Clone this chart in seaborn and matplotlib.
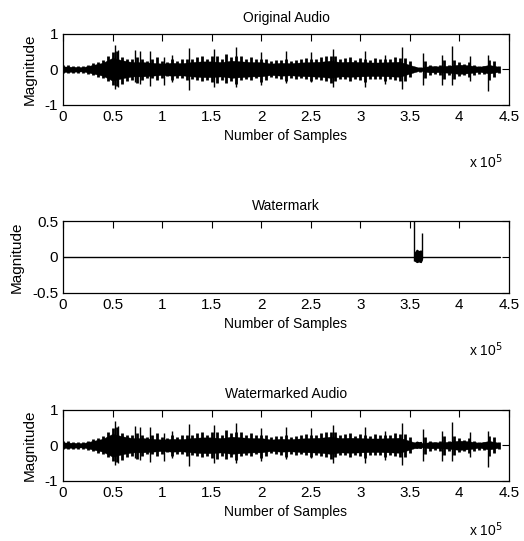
import numpy as np
import pandas as pd
import matplotlib
matplotlib.use('Agg')
import matplotlib.pyplot as plt
from matplotlib.ticker import FuncFormatter
import seaborn as sns

# sample positions of the envelope readings (units of 1e5 samples)
env_pos = np.linspace(0, 4.4, 89)

# outer (ragged) envelope of the original audio
env_upper = [0.11, 0.11, 0.10, 0.09, 0.08, 0.11, 0.17, 0.21, 0.27, 0.36,
             0.48, 0.50, 0.33, 0.29, 0.30, 0.33, 0.29, 0.24, 0.29, 0.33,
             0.24, 0.21, 0.29, 0.24, 0.28, 0.28, 0.30, 0.33, 0.36, 0.30,
             0.36, 0.38, 0.29, 0.43, 0.33, 0.38, 0.36, 0.29, 0.33, 0.29,
             0.30, 0.29, 0.22, 0.27, 0.27, 0.30, 0.22, 0.27, 0.28, 0.31,
             0.30, 0.28, 0.34, 0.36, 0.36, 0.36, 0.28, 0.31, 0.34, 0.27,
             0.31, 0.30, 0.27, 0.31, 0.28, 0.30, 0.28, 0.34, 0.31, 0.31,
             0.22, 0.05, 0.06, 0.22, 0.13, 0.10, 0.13, 0.27, 0.13, 0.27,
             0.19, 0.16, 0.20, 0.13, 0.10, 0.10, 0.25, 0.22, 0.10]
env_lower = [-0.11, -0.10, -0.10, -0.10, -0.10, -0.12, -0.17, -0.21, -0.25, -0.33,
             -0.43, -0.48, -0.40, -0.33, -0.29, -0.38, -0.29, -0.24, -0.24, -0.29,
             -0.24, -0.19, -0.29, -0.24, -0.24, -0.30, -0.27, -0.29, -0.33, -0.29,
             -0.35, -0.38, -0.29, -0.38, -0.33, -0.40, -0.31, -0.27, -0.29, -0.24,
             -0.35, -0.29, -0.21, -0.24, -0.28, -0.33, -0.24, -0.27, -0.24, -0.28,
             -0.32, -0.28, -0.31, -0.33, -0.38, -0.33, -0.27, -0.28, -0.33, -0.28,
             -0.30, -0.35, -0.27, -0.28, -0.28, -0.33, -0.27, -0.30, -0.33, -0.33,
             -0.21, -0.06, -0.08, -0.24, -0.15, -0.12, -0.15, -0.28, -0.15, -0.27,
             -0.19, -0.16, -0.22, -0.15, -0.12, -0.12, -0.30, -0.21, -0.10]

# solid core of the waveform (half height), every 0.1e5 samples
core_pos = np.linspace(0, 4.4, 45)
core_half = [0.08, 0.07, 0.06, 0.12, 0.18, 0.32, 0.25, 0.20, 0.20, 0.18,
             0.16, 0.18, 0.17, 0.20, 0.22, 0.22, 0.20, 0.24, 0.22, 0.20,
             0.20, 0.16, 0.18, 0.17, 0.19, 0.20, 0.21, 0.24, 0.20, 0.21,
             0.20, 0.19, 0.19, 0.20, 0.21, 0.12, 0.04, 0.09, 0.08, 0.10,
             0.13, 0.11, 0.07, 0.12, 0.07]

# transient spikes: position, top, bottom
spike_pos = [0.52, 0.56, 0.73, 0.78, 0.88, 1.02, 1.10, 1.27, 1.52, 1.75, 2.00,
             2.25, 2.50, 2.72, 3.05, 3.25, 3.42, 3.63, 3.82, 3.93, 4.11, 4.29]
spike_top = [0.69, 0.55, 0.55, 0.50, 0.52, 0.35, 0.40, 0.59, 0.57, 0.62, 0.48,
             0.50, 0.47, 0.56, 0.50, 0.40, 0.63, 0.45, 0.40, 0.66, 0.36, 0.40]
spike_bottom = [-0.55, -0.50, -0.35, -0.42, -0.48, -0.45, -0.35, -0.59, -0.50, -0.50, -0.43,
                -0.38, -0.36, -0.49, -0.49, -0.40, -0.54, -0.45, -0.45, -0.45, -0.33, -0.60]

# watermark signal: flat line, small burst and two spikes
wm_line_pos = [0, 4.41]
wm_line_val = [0, 0]
wm_burst_pos = [3.55, 3.57, 3.59, 3.61, 3.62]
wm_burst_top = [0.06, 0.10, 0.08, 0.09, 0.05]
wm_burst_bottom = [-0.05, -0.07, -0.06, -0.07, -0.04]
wm_spike_pos = [3.547, 3.62]
wm_spike_top = [0.6, 0.34]
wm_spike_bottom = [-0.05, -0.03]

sns.set_theme(style='white')
plt.rcParams['font.family'] = ['Liberation Sans', 'DejaVu Sans']
plt.rcParams['axes.unicode_minus'] = False

fig = plt.figure(figsize=(5.24, 5.41), dpi=100)
bottoms = [0.806, 0.459, 0.111]
titles = ['Original Audio', 'Watermark', 'Watermarked Audio']
exp_offsets = [-57, -57, -49]

axes = [fig.add_axes([0.1202, b, 0.851, 0.132]) for b in bottoms]

core_half = np.array(core_half)


def draw_audio(ax):
    # solid body
    ax.fill_between(core_pos * 1e5, -core_half, core_half, color='black', linewidth=0.3)
    # ragged fringe as strokes up to the outer envelope
    ax.vlines(env_pos * 1e5, env_lower, env_upper, color='black', linewidth=2.0)
    # large transients
    ax.vlines(np.array(spike_pos) * 1e5, spike_bottom, spike_top, color='black', linewidth=1.0)


# Original audio
draw_audio(axes[0])

# Watermark
wm_df = pd.DataFrame({'x': np.array(wm_line_pos) * 1e5, 'y': wm_line_val})
sns.lineplot(data=wm_df, x='x', y='y', color='black', linewidth=1.0, ax=axes[1])
axes[1].fill_between(np.array(wm_burst_pos) * 1e5, wm_burst_bottom, wm_burst_top,
                     color='black', linewidth=1.0)
axes[1].vlines(np.array(wm_spike_pos) * 1e5, wm_spike_bottom, wm_spike_top,
               color='black', linewidth=1.0)

# Watermarked audio = original + watermark burst
draw_audio(axes[2])
axes[2].fill_between(np.array(wm_burst_pos) * 1e5, wm_burst_bottom, wm_burst_top,
                     color='black', linewidth=1.0)

for i, ax in enumerate(axes):
    ax.set_xlim(0, 4.5e5)
    ax.set_xticks(np.arange(0, 4.51e5, 0.5e5))
    ax.xaxis.set_major_formatter(FuncFormatter(lambda v, p: f'{v / 1e5:g}'))
    if i == 1:
        ax.set_ylim(-0.5, 0.5)
        ax.set_yticks([-0.5, 0, 0.5])
        ax.set_yticklabels(['-0.5', '0', '0.5'])
    else:
        ax.set_ylim(-1, 1)
        ax.set_yticks([-1, 0, 1])
        ax.set_yticklabels(['-1', '0', '1'])
    ax.tick_params(direction='in', top=True, right=True, length=5, width=0.8,
                   labelsize=11, pad=3.5, colors='black')
    for sp in ax.spines.values():
        sp.set_color('black')
        sp.set_linewidth(0.9)
    ax.set_title(titles[i], fontsize=10, pad=8, color='black')
    ax.set_xlabel('Number of Samples', fontsize=10, labelpad=4, color='black')
    ax.set_ylabel('Magnitude', fontsize=11, labelpad=6, color='black')
    ax.annotate(r'x 10$^5$', xy=(1, 0), xycoords='axes fraction',
                xytext=(-6, exp_offsets[i]), textcoords='offset pixels',
                ha='right', va='center', fontsize=10, color='black')

fig.savefig('out.png', dpi=100, facecolor='white')
